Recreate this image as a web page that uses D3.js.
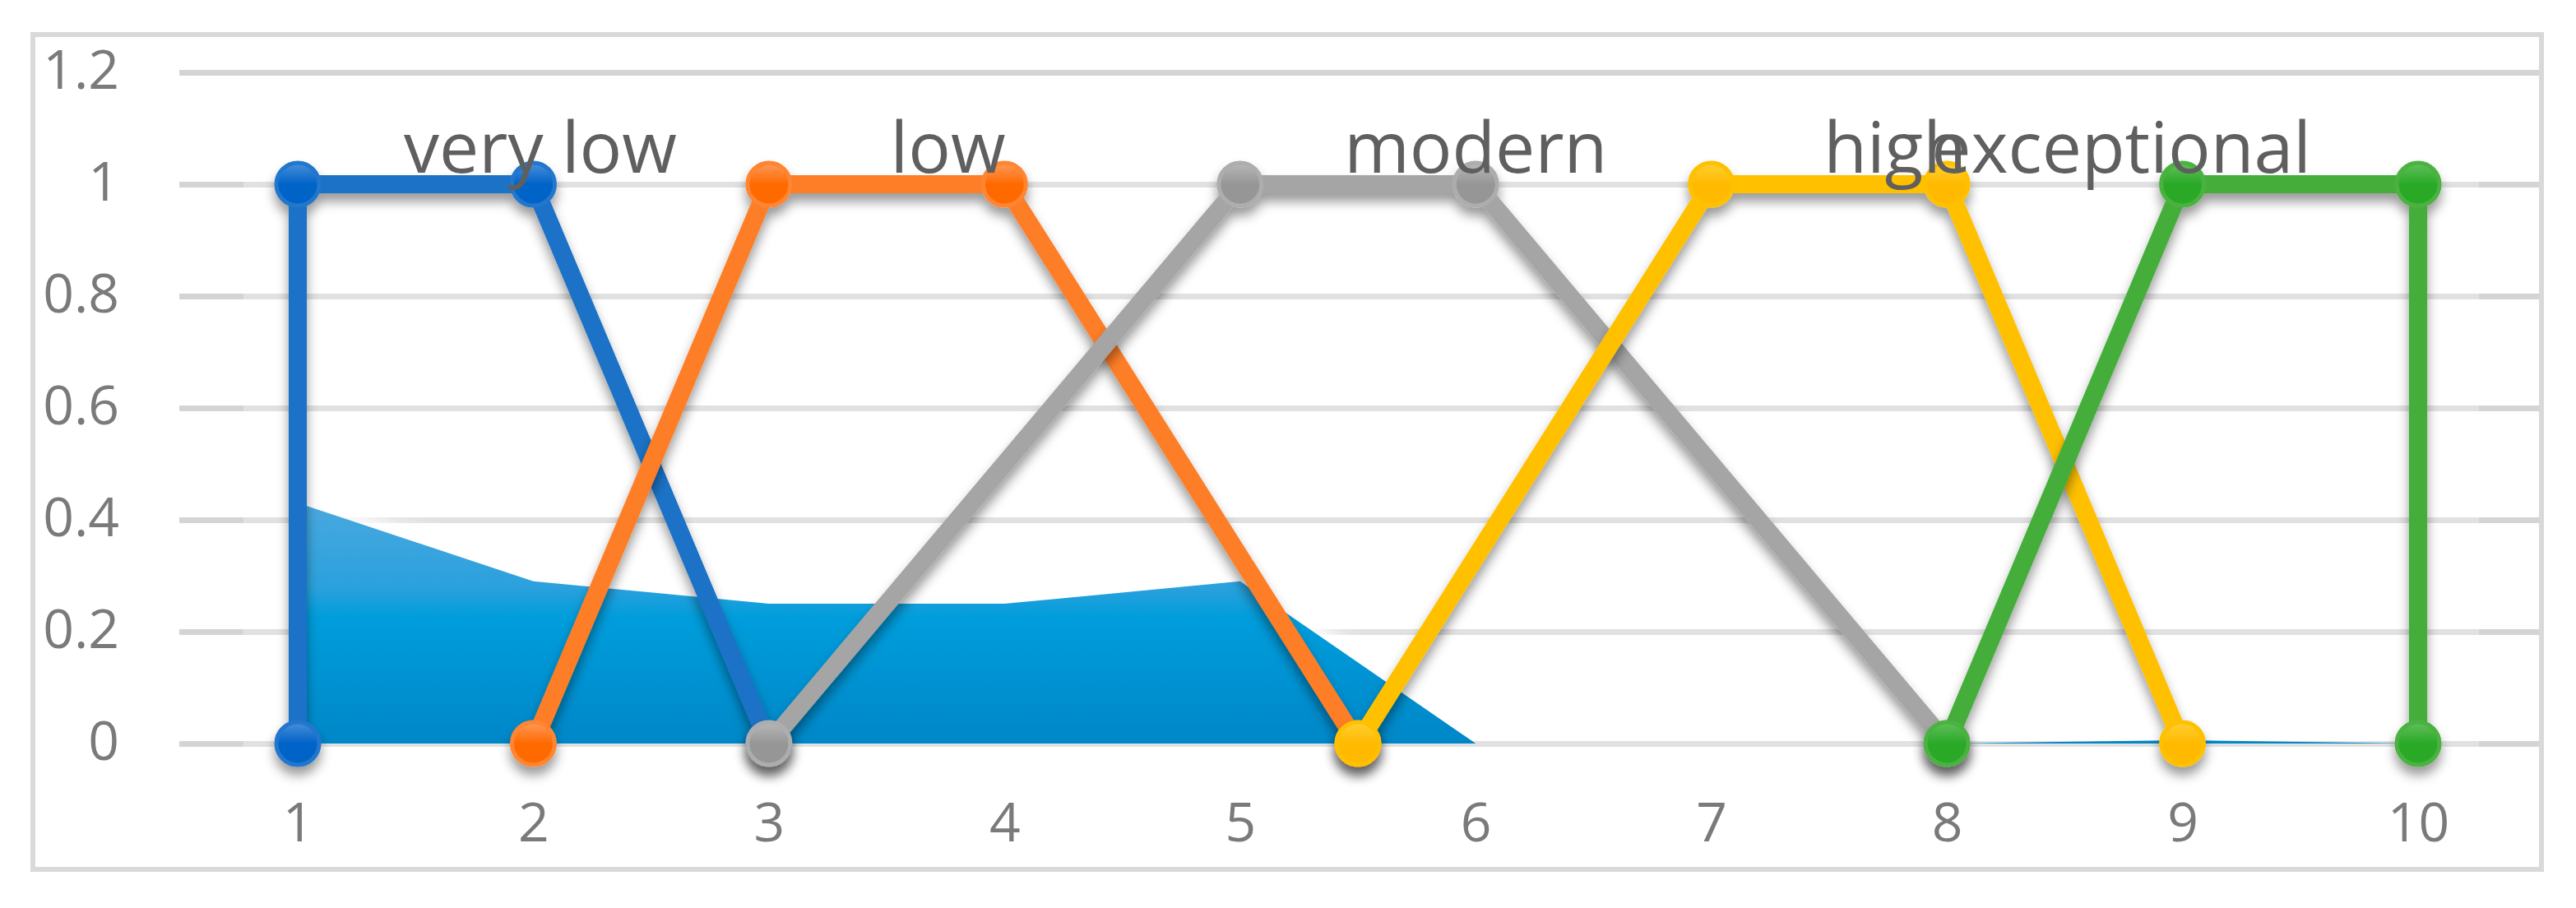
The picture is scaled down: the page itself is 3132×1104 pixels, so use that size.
<!DOCTYPE html>
<html>
<head>
<meta charset="utf-8">
<script src="https://cdn.jsdelivr.net/npm/d3@7"></script>
<style>
  html, body { margin: 0; padding: 0; background: #fff; }
  svg { display: block; }
  .tick text { font-family: "Open Sans", sans-serif; fill: #7a7a7a; }
  .names text { font-family: "Open Sans", sans-serif; fill: #5f5f5f; }
</style>
</head>
<body>
<div id="chart"></div>
<script>
// data
var xTicks = [1, 2, 3, 4, 5, 6, 7, 8, 9, 10];
var yTicks = [0, 0.2, 0.4, 0.6, 0.8, 1, 1.2];

// the blue filled area (one value per x tick)
var areaValues = [0.43, 0.29, 0.25, 0.25, 0.29, 0, 0, 0, 0.006, 0];

// membership functions [x, y]
var veryLow = [[1, 0], [1, 1], [2, 1], [3, 0]];
var low = [[2, 0], [3, 1], [4, 1], [5.5, 0]];
var modern = [[3, 0], [5, 1], [6, 1], [8, 0]];
var high = [[5.5, 0], [7, 1], [8, 1], [9, 0]];
var exceptional = [[8, 0], [9, 1], [10, 1], [10, 0]];

var seriesNames = ["very low", "low", "modern", "high", "exceptional"];
var nameX = [2.03, 3.76, 6.0, 7.78, 8.74];   // where each name sits, in x units
var nameY = 1.02;

var width = 3132, height = 1104;

var x = d3.scaleLinear().domain([1, 10]).range([362, 2940]);
var y = d3.scaleLinear().domain([0, 1.2]).range([904, 88]);

var series = [
  {name: "very low", pts: veryLow, line: "#1b72c6", ring: "#2277cc", hi: "#4a90da", lo: "#0063c8"},
  {name: "low", pts: low, line: "#fd7e26", ring: "#ff8530", hi: "#ff9a5a", lo: "#ff6a00"},
  {name: "modern", pts: modern, line: "#a5a5a5", ring: "#adadad", hi: "#b8b8b8", lo: "#969696"},
  {name: "high", pts: high, line: "#ffc000", ring: "#ffc000", hi: "#ffcf33", lo: "#ffba00"},
  {name: "exceptional", pts: exceptional, line: "#44ae3b", ring: "#4bb243", hi: "#62c05a", lo: "#2aa928"}
];

var svg = d3.select("#chart").append("svg")
  .attr("width", width)
  .attr("height", height);

var defs = svg.append("defs");

var shadow = defs.append("filter")
  .attr("id", "shadow")
  .attr("filterUnits", "userSpaceOnUse")
  .attr("x", 0).attr("y", 0).attr("width", width).attr("height", height);
shadow.append("feDropShadow")
  .attr("dx", 0).attr("dy", 10)
  .attr("stdDeviation", 7)
  .attr("flood-color", "#000")
  .attr("flood-opacity", 0.4);

var glow = defs.append("filter")
  .attr("id", "glow")
  .attr("filterUnits", "userSpaceOnUse")
  .attr("x", 0).attr("y", 0).attr("width", width).attr("height", height);
glow.append("feGaussianBlur").attr("stdDeviation", 10);

// keep the glow off the zero line
defs.append("clipPath")
  .attr("id", "aboveZero")
  .append("rect")
  .attr("x", 0).attr("y", 0)
  .attr("width", width).attr("height", y(0) - 14);

var areaGrad = defs.append("linearGradient")
  .attr("id", "areaGrad")
  .attr("gradientUnits", "userSpaceOnUse")
  .attr("x1", 0).attr("x2", 0)
  .attr("y1", y(0.45)).attr("y2", y(0));
areaGrad.append("stop").attr("offset", 0).attr("stop-color", "#4ea9df");
areaGrad.append("stop").attr("offset", 0.38).attr("stop-color", "#2aa1dd");
areaGrad.append("stop").attr("offset", 0.5).attr("stop-color", "#009ddc");
areaGrad.append("stop").attr("offset", 1).attr("stop-color", "#0087c8");

series.forEach(function(s, i) {
  var g = defs.append("linearGradient")
    .attr("id", "mk" + i)
    .attr("x1", 0).attr("x2", 0).attr("y1", 0).attr("y2", 1);
  g.append("stop").attr("offset", 0).attr("stop-color", s.hi);
  g.append("stop").attr("offset", 0.5).attr("stop-color", s.lo);
  g.append("stop").attr("offset", 1).attr("stop-color", s.lo);
});

// outer frame
svg.append("rect")
  .attr("x", 40).attr("y", 42)
  .attr("width", 3050).attr("height", 1015)
  .attr("fill", "#fff")
  .attr("stroke", "#d9d9d9")
  .attr("stroke-width", 6);

// gridlines
svg.append("g")
  .attr("transform", "translate(218,0)")
  .call(d3.axisLeft(y).tickValues(yTicks).tickSize(-2869).tickFormat(""))
  .call(function(g) { g.select(".domain").remove(); })
  .selectAll("line")
  .attr("stroke", "#d4d4d4")
  .attr("stroke-width", 7);

// plot area wash, makes the inner part of the gridlines lighter
svg.append("rect")
  .attr("x", 296).attr("y", 110)
  .attr("width", 2718).attr("height", 850)
  .attr("fill", "#fff")
  .attr("opacity", 0.3);

// y axis labels
svg.append("g")
  .attr("transform", "translate(145,0)")
  .call(d3.axisLeft(y).tickValues(yTicks).tickSize(0).tickPadding(0)
    .tickFormat(function(d) { return String(+d.toFixed(1)); }))
  .call(function(g) { g.select(".domain").remove(); })
  .selectAll("text")
  .attr("font-size", 66)
  .attr("dy", "0.3em");

// x axis labels
svg.append("g")
  .attr("transform", "translate(0,1023)")
  .call(d3.axisBottom(x).tickValues(xTicks).tickSize(0).tickPadding(0))
  .call(function(g) { g.select(".domain").remove(); })
  .selectAll("text")
  .attr("font-size", 66)
  .attr("y", 0)
  .attr("dy", 0);

// blue area
var area = d3.area()
  .x(function(d, i) { return x(xTicks[i]); })
  .y0(y(0))
  .y1(function(d) { return y(d); });

var topLine = d3.line()
  .x(function(d, i) { return x(xTicks[i]); })
  .y(function(d) { return y(d); });

svg.append("g")
  .attr("clip-path", "url(#aboveZero)")
  .append("path")
  .datum(areaValues)
  .attr("d", topLine)
  .attr("fill", "none")
  .attr("stroke", "#fff")
  .attr("stroke-width", 26)
  .attr("opacity", 0.9)
  .attr("filter", "url(#glow)");

svg.append("path")
  .datum(areaValues)
  .attr("d", area)
  .attr("fill", "url(#areaGrad)");

// lines with markers
var line = d3.line()
  .x(function(d) { return x(d[0]); })
  .y(function(d) { return y(d[1]); });

series.forEach(function(s, i) {
  var g = svg.append("g").attr("filter", "url(#shadow)");
  g.append("path")
    .datum(s.pts)
    .attr("d", line)
    .attr("fill", "none")
    .attr("stroke", s.line)
    .attr("stroke-width", 22)
    .attr("stroke-linejoin", "round");
  g.selectAll("circle")
    .data(s.pts)
    .enter().append("circle")
    .attr("cx", function(d) { return x(d[0]); })
    .attr("cy", function(d) { return y(d[1]); })
    .attr("r", 26)
    .attr("fill", "url(#mk" + i + ")")
    .attr("stroke", s.ring)
    .attr("stroke-width", 5);
});

// series names (high / exceptional overlap in the original too)
svg.append("g")
  .attr("class", "names")
  .selectAll("text")
  .data(seriesNames)
  .enter().append("text")
  .attr("x", function(d, i) { return x(nameX[i]); })
  .attr("y", y(nameY))
  .attr("text-anchor", "middle")
  .attr("font-size", 86)
  .text(function(d) { return d; });
</script>
</body>
</html>
